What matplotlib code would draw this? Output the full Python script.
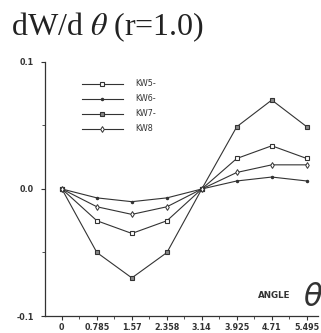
import matplotlib
matplotlib.use("Agg")
import matplotlib.pyplot as plt

# angle positions and dW/dtheta values
angles = [0, 0.785, 1.57, 2.358, 3.14, 3.925, 4.71, 5.495]
angle_labels = ["0", "0.785", "1.57", "2.358", "3.14", "3.925", "4.71", "5.495"]

kw5 = [0, -0.025, -0.035, -0.025, 0, 0.024, 0.034, 0.024]
kw6 = [0, -0.007, -0.010, -0.007, 0, 0.0063, 0.0094, 0.0063]
kw7 = [0, -0.050, -0.070, -0.050, 0, 0.049, 0.070, 0.049]
kw8 = [0, -0.014, -0.020, -0.014, 0, 0.013, 0.019, 0.019]

plt.rcParams['mathtext.fontset'] = 'stix'

fig = plt.figure(figsize=(3.21, 3.33), dpi=100)
ax = fig.add_axes([0.140, 0.051, 0.851, 0.763])

lc = '#333333'
ax.plot(angles, kw5, '-', color=lc, lw=0.8, marker='s', ms=3.5, mfc='white', mec=lc, mew=0.8, label="KW5-")
ax.plot(angles, kw6, '-', color=lc, lw=0.8, marker='.', ms=3, mfc=lc, mec=lc, label="KW6-")
ax.plot(angles, kw7, '-', color=lc, lw=0.8, marker='s', ms=3, mfc='#888888', mec=lc, mew=0.8, label="KW7-")
ax.plot(angles, kw8, '-', color=lc, lw=0.8, marker='d', ms=3, mfc='white', mec=lc, mew=0.7, label="KW8")

ax.set_xlim(-0.38, 5.75)
ax.set_ylim(-0.1, 0.1)
ax.set_xticks(angles)
ax.set_xticklabels(angle_labels, fontsize=5.8, fontweight='bold', color='#333333')
ax.set_xticks([a + 0.3925 for a in angles[:-1]], minor=True)
ax.set_yticks([-0.1, 0.0, 0.1])
ax.set_yticklabels(["-0.1", "0.0", "0.1"], fontsize=5.8, fontweight='bold', color='#333333')
ax.set_yticks([-0.05, 0.05], minor=True)
ax.tick_params(which='major', length=3, width=0.8, color=lc)
ax.tick_params(axis='x', which='major', pad=2)
ax.tick_params(axis='y', which='major', pad=5)
ax.tick_params(which='minor', length=2, width=0.6, color=lc)
for s in ['top', 'right']:
    ax.spines[s].set_visible(False)
for s in ['left', 'bottom']:
    ax.spines[s].set_color(lc)
    ax.spines[s].set_linewidth(0.9)

ax.legend(loc='upper left', bbox_to_anchor=(0.11, 0.96), frameon=False, fontsize=5.8,
          handlelength=5, labelspacing=0.75, handletextpad=1.6, labelcolor='#333333')

fig.text(0.035, 0.895, r"dW/d $\theta$ (r=1.0)", fontsize=23, family='Liberation Serif', color='#222222')
fig.text(0.805, 0.105, "ANGLE", fontsize=6.3, fontweight='bold', color='#333333')
fig.text(0.945, 0.08, "θ", fontsize=22, family='DejaVu Sans', style='italic', color='#333333')

fig.savefig("out.png", dpi=100)
